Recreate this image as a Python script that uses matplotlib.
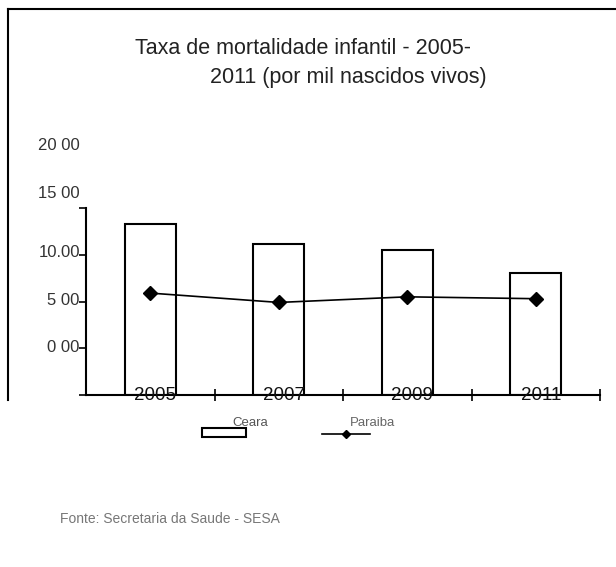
import numpy as np
import matplotlib
matplotlib.use('Agg')
import matplotlib.pyplot as plt
from matplotlib import transforms
from matplotlib.patches import Rectangle
from matplotlib.lines import Line2D

# Dados
anos = ['2005', '2007', '2009', '2011']
ceara = [18.3, 16.2, 15.5, 13.1]
paraiba = [10.9, 9.9, 10.5, 10.3]
ticks_y = [0, 5, 10, 15, 20]
rotulos_y = ['0 00', '5 00', '10.00', '15 00', '20 00']

plt.rcParams['font.family'] = ['Liberation Sans', 'DejaVu Sans']

W, H = 616, 567
fig = plt.figure(figsize=(W / 100, H / 100), dpi=100)


def px(x, y):
    # coordenadas em pixels -> fracao da figura
    return x / W, 1 - y / H


# eixo principal
l, b = px(86, 395)
r, t = px(600, 208)
ax = fig.add_axes([l, b, r - l, t - b])

x = np.arange(len(anos))
ax.bar(x, ceara, width=0.4, color='white', edgecolor='black', linewidth=1.5)
ax.plot(x, paraiba, color='black', linewidth=1.2, marker='D', markersize=7)

ax.set_xlim(-0.5, len(anos) - 0.5)
ax.set_ylim(0, 20)
for s in ['top', 'right']:
    ax.spines[s].set_visible(False)
for s in ['left', 'bottom']:
    ax.spines[s].set_linewidth(1.5)

ax.set_xticks(x + 0.5)
ax.tick_params(axis='x', direction='inout', length=9, width=1.2, labelbottom=False)
ax.set_yticks(ticks_y)
ax.tick_params(axis='y', direction='out', length=5, width=1.2, labelleft=False)

# rotulos do eixo y deslocados (como na digitalizacao original)
desloc = [47, 48, 49, 61, 63]
for v, lab, d in zip(ticks_y, rotulos_y, desloc):
    tr = transforms.offset_copy(ax.transData, fig=fig, x=0, y=d, units='dots')
    tr = transforms.blended_transform_factory(ax.transAxes, tr)
    ax.text(-0.012, v, lab, transform=tr, ha='right', va='center',
            fontsize=12, color='#333333')

# anos sobre o eixo x
for xi, ano in zip(x, anos):
    ax.text(xi + 0.04, 0, ano, ha='center', va='center', fontsize=13.5, color='#111111')

# titulo
fig.text(*px(135, 48), 'Taxa de mortalidade infantil - 2005-', ha='left', va='center',
         fontsize=15.5, color='#222222')
fig.text(*px(487, 78), '2011 (por mil nascidos vivos)', ha='right', va='center',
         fontsize=15.5, color='#222222')

# legenda desenhada a mao
rx0, ry0 = px(202, 437)
rx1, ry1 = px(246, 428)
fig.add_artist(Rectangle((rx0, ry0), rx1 - rx0, ry1 - ry0, transform=fig.transFigure,
                         facecolor='white', edgecolor='black', linewidth=1.5))
fig.text(*px(232, 423), 'Ceara', ha='left', va='center', fontsize=9.5, color='#555555')
lx0, ly = px(322, 434)
lx1, _ = px(370, 434)
fig.add_artist(Line2D([lx0, lx1], [ly, ly], transform=fig.transFigure, color='black', linewidth=1.2))
fig.add_artist(Line2D([(lx0 + lx1) / 2], [ly], transform=fig.transFigure, color='black',
                      marker='D', markersize=4))
fig.text(*px(350, 423), 'Paraiba', ha='left', va='center', fontsize=9.5, color='#666666')

# fonte
fig.text(*px(60, 519), 'Fonte: Secretaria da Saude - SESA', ha='left', va='center',
         fontsize=10, color='#777777')

# moldura (parcial)
x0, y0 = px(8, 9)
x1, y1 = px(616, 9)
_, y2 = px(8, 400)
fig.add_artist(Line2D([x0, x1], [y0, y1], transform=fig.transFigure, color='black', linewidth=1.5))
fig.add_artist(Line2D([x0, x0], [y0, y2], transform=fig.transFigure, color='black', linewidth=1.5))

fig.savefig('out.png', dpi=100, facecolor='white')
